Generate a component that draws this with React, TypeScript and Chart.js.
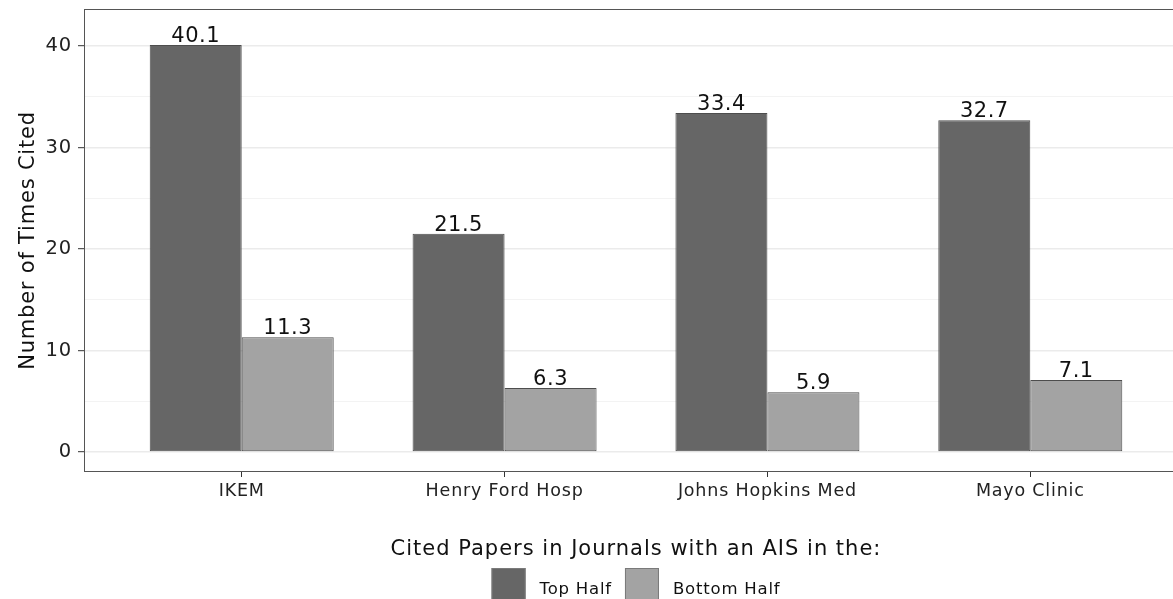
import React, { useEffect, useRef } from "react";
import { Chart, registerables } from "chart.js";

Chart.register(...registerables);

const categories = ["IKEM", "Henry Ford Hosp", "Johns Hopkins Med", "Mayo Clinic"];
const topHalf = [40.1, 21.5, 33.4, 32.7];
const bottomHalf = [11.3, 6.3, 5.9, 7.1];
const seriesLabels = ["Top Half", "Bottom Half"];
const seriesColors = ["#666666", "#a3a3a3"];
const majorTicks = [0, 10, 20, 30, 40];
const minorTicks = [5, 15, 25, 35];
const yTitle = "Number of Times Cited";
const legendTitle = "Cited Papers in Journals with an AIS in the:";

const FONT = "'DejaVu Sans', Verdana, sans-serif";

const spacing = {
  id: "spacing",
  beforeDraw(chart: any) {
    (chart.ctx as any).letterSpacing = "0.8px";
  },
  afterDraw(chart: any) {
    (chart.ctx as any).letterSpacing = "0px";
  },
};

const panelBorder = {
  id: "panelBorder",
  afterDatasetsDraw(chart: any) {
    const { ctx, chartArea: a } = chart;
    ctx.save();
    ctx.strokeStyle = "#555555";
    ctx.lineWidth = 1;
    ctx.strokeRect(a.left + 0.5, a.top + 0.5, a.right - a.left - 1, a.bottom - a.top - 1);
    ctx.restore();
  },
};

const valueLabels = {
  id: "valueLabels",
  afterDatasetsDraw(chart: any) {
    const { ctx } = chart;
    ctx.save();
    (ctx as any).letterSpacing = "0.5px";
    ctx.font = `21px ${FONT}`;
    ctx.fillStyle = "#111111";
    ctx.textAlign = "center";
    ctx.textBaseline = "alphabetic";
    chart.data.datasets.forEach((ds: any, di: number) => {
      const meta = chart.getDatasetMeta(di);
      meta.data.forEach((el: any, i: number) => {
        const v = ds.data[i].y;
        ctx.fillText(v.toFixed(1), el.x, el.y - 3);
      });
    });
    ctx.restore();
  },
};

const bottomLegend = {
  id: "bottomLegend",
  afterDraw(chart: any) {
    const { ctx, chartArea: a } = chart;
    const cx = (a.left + a.right) / 2;
    ctx.save();
    (ctx as any).letterSpacing = "1px";
    ctx.fillStyle = "#111111";
    ctx.font = `21px ${FONT}`;
    ctx.textAlign = "center";
    ctx.textBaseline = "alphabetic";
    ctx.fillText(legendTitle, cx, 555);

    (ctx as any).letterSpacing = "0.8px";
    ctx.font = `16.5px ${FONT}`;
    const box = 34;
    const gapText = 14;
    const gapItem = 13;
    const ds = chart.data.datasets;
    const widths = ds.map((d: any) => ctx.measureText(d.label).width);
    let total = 0;
    widths.forEach((w: number, i: number) => {
      total += box + gapText + w + (i < widths.length - 1 ? gapItem : 0);
    });
    let x = cx - total / 2;
    ctx.textAlign = "left";
    ds.forEach((d: any, i: number) => {
      ctx.fillStyle = d.backgroundColor;
      ctx.fillRect(x, 568, box, box);
      ctx.strokeStyle = "#7a7a7a";
      ctx.lineWidth = 1;
      ctx.strokeRect(x + 0.5, 568.5, box - 1, box - 1);
      ctx.fillStyle = "#111111";
      ctx.fillText(d.label, x + box + gapText, 594);
      x += box + gapText + widths[i] + gapItem;
    });
    ctx.restore();
  },
};

export default function App() {
  const ref = useRef<HTMLCanvasElement | null>(null);

  useEffect(() => {
    if (!ref.current) return;
    const isMajor = (v: any) => majorTicks.includes(v);
    const chart = new Chart(ref.current, {
      type: "bar",
      data: {
        datasets: [topHalf, bottomHalf].map((vals, si) => ({
          label: seriesLabels[si],
          data: vals.map((v, i) => ({ x: i, y: v })),
          backgroundColor: seriesColors[si],
          borderColor: "#4d4d4d",
          borderWidth: 1,
          borderSkipped: false,
          categoryPercentage: 0.7,
          barPercentage: 1,
        })),
      } as any,
      options: {
        animation: false,
        responsive: false,
        devicePixelRatio: 1,
        layout: { padding: { left: 0, right: 12, top: 9, bottom: 0 } },
        plugins: { legend: { display: false }, tooltip: { enabled: false } },
        scales: {
          x: {
            type: "linear",
            min: -0.6,
            max: 3.6,
            offset: false,
            afterBuildTicks: (s: any) => {
              s.ticks = categories.map((_, i) => ({ value: i }));
            },
            afterFit: (s: any) => {
              s.height = 127;
              s.paddingLeft = 0;
              s.paddingRight = 0;
            },
            ticks: {
              callback: (v: any) => categories[v] ?? "",
              font: { family: FONT, size: 17.5 },
              color: "#222222",
              padding: 4,
              autoSkip: false,
              maxRotation: 0,
            },
            grid: {
              offset: false,
              drawOnChartArea: false,
              drawTicks: true,
              tickLength: 5,
              tickColor: "#333333",
              tickWidth: 1,
            },
            border: { display: false },
          },
          y: {
            type: "linear",
            min: -1.97,
            max: 43.65,
            afterBuildTicks: (s: any) => {
              s.ticks = [...majorTicks, ...minorTicks].sort((a, b) => a - b).map((v) => ({ value: v }));
            },
            afterFit: (s: any) => {
              s.width = 84;
              s.paddingTop = 0;
              s.paddingBottom = 0;
            },
            ticks: {
              callback: (v: any) => (isMajor(v) ? String(v) : ""),
              font: { family: FONT, size: 19.5 },
              color: "#222222",
              padding: 6,
            },
            grid: {
              color: (c: any) => (isMajor(c.tick?.value) ? "#ebebeb" : "#f3f3f3"),
              lineWidth: (c: any) => (isMajor(c.tick?.value) ? 1.4 : 1),
              tickColor: (c: any) => (isMajor(c.tick?.value) ? "#333333" : "rgba(0,0,0,0)"),
              tickLength: 6,
              tickWidth: 1,
            },
            border: { display: false },
            title: {
              display: true,
              text: yTitle,
              font: { family: FONT, size: 21 },
              color: "#111111",
              padding: { top: 16, bottom: 0 },
            },
          },
        },
      } as any,
      plugins: [spacing, panelBorder, valueLabels, bottomLegend],
    });
    return () => chart.destroy();
  }, []);

  return (
    <div
      style={{
        position: "fixed",
        left: 0,
        top: 0,
        width: 1173,
        height: 599,
        overflow: "hidden",
        background: "#ffffff",
      }}
    >
      <canvas ref={ref} width={1200} height={599} style={{ display: "block", width: 1200, height: 599 }} />
    </div>
  );
}
